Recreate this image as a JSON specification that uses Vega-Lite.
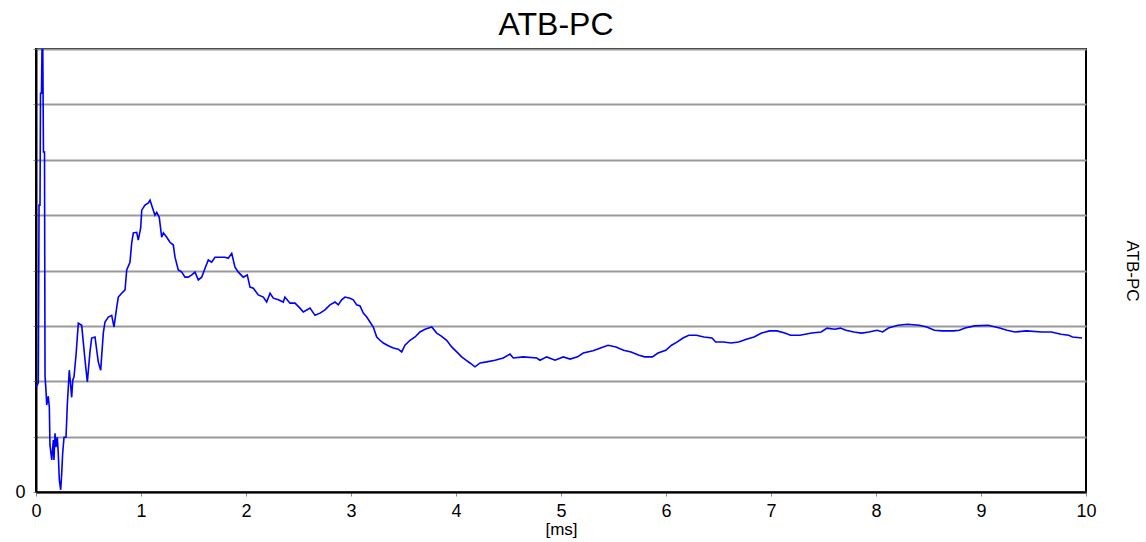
{
  "$schema": "https://vega.github.io/schema/vega-lite/v6.json",
  "width": 1050,
  "height": 443,
  "autosize": "none",
  "padding": {"left": 36, "top": 49, "right": 60, "bottom": 50},
  "background": "white",
  "title": {"text": "ATB-PC", "fontSize": 32, "font": "Liberation Sans", "fontWeight": "normal", "color": "black", "offset": 7, "anchor": "middle", "dx": -5},
  "config": {
    "view": {"stroke": "black", "strokeWidth": 2},
    "font": "Liberation Sans"
  },
  "data": {"values": [
    {"t":0.000,"v":1.95},{"t":0.0067,"v":1.91},{"t":0.022,"v":1.97},{"t":0.029,"v":5.18},{"t":0.038,"v":5.18},{"t":0.043,"v":7.20},{"t":0.052,"v":7.20},{"t":0.062,"v":8.8},{"t":0.071,"v":6.14},{"t":0.081,"v":6.14},{"t":0.086,"v":2.09},{"t":0.095,"v":1.84},{"t":0.102,"v":1.57},{"t":0.117,"v":1.73},{"t":0.127,"v":1.53},{"t":0.133,"v":0.85},{"t":0.150,"v":0.58},{"t":0.165,"v":0.94},{"t":0.171,"v":0.58},{"t":0.181,"v":1.06},{"t":0.190,"v":0.81},{"t":0.203,"v":0.99},{"t":0.212,"v":0.70},{"t":0.222,"v":0.22},{"t":0.235,"v":0.04},{"t":0.245,"v":0.34},{"t":0.254,"v":0.70},{"t":0.267,"v":0.99},{"t":0.286,"v":0.99},{"t":0.298,"v":1.57},{"t":0.317,"v":2.20},{"t":0.340,"v":1.71},{"t":0.350,"v":2.02},{"t":0.362,"v":2.08},{"t":0.381,"v":2.47},{"t":0.403,"v":3.05},{"t":0.435,"v":3.01},{"t":0.467,"v":2.38},{"t":0.489,"v":1.99},{"t":0.514,"v":2.53},{"t":0.530,"v":2.78},{"t":0.562,"v":2.80},{"t":0.593,"v":2.35},{"t":0.616,"v":2.20},{"t":0.641,"v":2.87},{"t":0.657,"v":3.07},{"t":0.689,"v":3.16},{"t":0.721,"v":3.19},{"t":0.743,"v":2.98},{"t":0.769,"v":3.34},{"t":0.784,"v":3.52},{"t":0.816,"v":3.59},{"t":0.848,"v":3.65},{"t":0.864,"v":4.01},{"t":0.895,"v":4.15},{"t":0.911,"v":4.49},{"t":0.927,"v":4.68},{"t":0.959,"v":4.69},{"t":0.974,"v":4.55},{"t":0.997,"v":4.77},{"t":1.007,"v":5.09},{"t":1.038,"v":5.18},{"t":1.070,"v":5.22},{"t":1.086,"v":5.27},{"t":1.117,"v":5.09},{"t":1.133,"v":5.00},{"t":1.150,"v":5.05},{"t":1.174,"v":4.96},{"t":1.197,"v":4.60},{"t":1.213,"v":4.68},{"t":1.245,"v":4.60},{"t":1.276,"v":4.51},{"t":1.308,"v":4.46},{"t":1.324,"v":4.24},{"t":1.355,"v":4.01},{"t":1.388,"v":3.97},{"t":1.419,"v":3.88},{"t":1.450,"v":3.88},{"t":1.483,"v":3.92},{"t":1.514,"v":3.97},{"t":1.546,"v":3.83},{"t":1.578,"v":3.88},{"t":1.610,"v":4.04},{"t":1.641,"v":4.19},{"t":1.673,"v":4.15},{"t":1.705,"v":4.24},{"t":1.752,"v":4.24},{"t":1.800,"v":4.24},{"t":1.831,"v":4.22},{"t":1.864,"v":4.31},{"t":1.895,"v":4.06},{"t":1.927,"v":3.97},{"t":1.974,"v":3.88},{"t":2.012,"v":3.92},{"t":2.038,"v":3.70},{"t":2.070,"v":3.68},{"t":2.117,"v":3.56},{"t":2.165,"v":3.52},{"t":2.197,"v":3.43},{"t":2.229,"v":3.59},{"t":2.260,"v":3.50},{"t":2.308,"v":3.47},{"t":2.355,"v":3.43},{"t":2.371,"v":3.52},{"t":2.419,"v":3.41},{"t":2.467,"v":3.41},{"t":2.514,"v":3.32},{"t":2.546,"v":3.25},{"t":2.610,"v":3.32},{"t":2.657,"v":3.19},{"t":2.705,"v":3.23},{"t":2.752,"v":3.29},{"t":2.800,"v":3.38},{"t":2.848,"v":3.43},{"t":2.879,"v":3.38},{"t":2.911,"v":3.47},{"t":2.943,"v":3.52},{"t":2.990,"v":3.50},{"t":3.022,"v":3.47},{"t":3.054,"v":3.38},{"t":3.086,"v":3.36},{"t":3.117,"v":3.23},{"t":3.150,"v":3.16},{"t":3.181,"v":3.07},{"t":3.212,"v":2.98},{"t":3.245,"v":2.80},{"t":3.276,"v":2.74},{"t":3.308,"v":2.69},{"t":3.355,"v":2.64},{"t":3.403,"v":2.60},{"t":3.450,"v":2.58},{"t":3.483,"v":2.53},{"t":3.514,"v":2.65},{"t":3.562,"v":2.74},{"t":3.610,"v":2.80},{"t":3.657,"v":2.89},{"t":3.705,"v":2.94},{"t":3.769,"v":2.98},{"t":3.816,"v":2.87},{"t":3.857,"v":2.82},{"t":3.911,"v":2.74},{"t":3.959,"v":2.62},{"t":4.007,"v":2.53},{"t":4.054,"v":2.44},{"t":4.095,"v":2.38},{"t":4.133,"v":2.33},{"t":4.181,"v":2.26},{"t":4.229,"v":2.33},{"t":4.292,"v":2.35},{"t":4.371,"v":2.38},{"t":4.450,"v":2.42},{"t":4.514,"v":2.49},{"t":4.546,"v":2.42},{"t":4.641,"v":2.44},{"t":4.769,"v":2.42},{"t":4.800,"v":2.38},{"t":4.864,"v":2.44},{"t":4.943,"v":2.38},{"t":5.022,"v":2.44},{"t":5.086,"v":2.40},{"t":5.158,"v":2.44},{"t":5.212,"v":2.51},{"t":5.305,"v":2.55},{"t":5.377,"v":2.60},{"t":5.448,"v":2.65},{"t":5.524,"v":2.62},{"t":5.596,"v":2.56},{"t":5.667,"v":2.53},{"t":5.743,"v":2.47},{"t":5.797,"v":2.44},{"t":5.870,"v":2.44},{"t":5.924,"v":2.51},{"t":5.998,"v":2.56},{"t":6.053,"v":2.65},{"t":6.108,"v":2.71},{"t":6.162,"v":2.78},{"t":6.217,"v":2.83},{"t":6.290,"v":2.83},{"t":6.362,"v":2.80},{"t":6.438,"v":2.78},{"t":6.473,"v":2.71},{"t":6.547,"v":2.71},{"t":6.619,"v":2.69},{"t":6.692,"v":2.71},{"t":6.766,"v":2.76},{"t":6.838,"v":2.80},{"t":6.911,"v":2.87},{"t":6.985,"v":2.91},{"t":7.057,"v":2.91},{"t":7.131,"v":2.87},{"t":7.186,"v":2.83},{"t":7.276,"v":2.83},{"t":7.387,"v":2.87},{"t":7.478,"v":2.89},{"t":7.533,"v":2.96},{"t":7.607,"v":2.94},{"t":7.661,"v":2.96},{"t":7.714,"v":2.92},{"t":7.789,"v":2.89},{"t":7.862,"v":2.87},{"t":7.933,"v":2.89},{"t":8.010,"v":2.92},{"t":8.063,"v":2.89},{"t":8.118,"v":2.96},{"t":8.210,"v":3.01},{"t":8.301,"v":3.03},{"t":8.410,"v":3.01},{"t":8.483,"v":2.98},{"t":8.556,"v":2.92},{"t":8.629,"v":2.91},{"t":8.739,"v":2.91},{"t":8.794,"v":2.92},{"t":8.848,"v":2.96},{"t":8.940,"v":3.00},{"t":9.067,"v":3.01},{"t":9.178,"v":2.96},{"t":9.248,"v":2.92},{"t":9.324,"v":2.89},{"t":9.433,"v":2.91},{"t":9.581,"v":2.89},{"t":9.671,"v":2.89},{"t":9.762,"v":2.85},{"t":9.835,"v":2.83},{"t":9.872,"v":2.80},{"t":9.962,"v":2.78}
  ]},
  "layer": [
    {
      "mark": {"type": "line", "color": "#0000ff", "strokeWidth": 1.6, "clip": true},
      "encoding": {
        "x": {"field": "t", "type": "quantitative", "scale": {"domain": [0, 10], "nice": false, "zero": false},
          "axis": {"title": "[ms]", "titleFontSize": 17, "titleFontWeight": "normal", "titleColor": "black", "titlePadding": 1,
            "values": [0,1,2,3,4,5,6,7,8,9,10], "format": "d", "labelFontSize": 18, "labelColor": "black", "labelPadding": 6,
            "tickSize": 4, "tickColor": "#888888", "tickWidth": 1, "domainColor": "black", "domainWidth": 2, "grid": false, "labelFlush": false}},
        "y": {"field": "v", "type": "quantitative", "scale": {"domain": [0, 8], "nice": false, "zero": true},
          "axis": {"title": null, "values": [0,1,2,3,4,5,6,7,8], "labelExpr": "datum.value === 0 ? '0' : ''",
            "labelFontSize": 18, "labelColor": "black", "labelPadding": 8, "tickSize": 3, "tickColor": "#888888",
            "domainColor": "black", "domainWidth": 2, "grid": true, "gridColor": "#999999", "gridWidth": 2}}
      }
    },
    {
      "mark": {"type": "line", "strokeOpacity": 0, "clip": true},
      "encoding": {
        "x": {"field": "t", "type": "quantitative", "scale": {"domain": [0, 10], "nice": false}},
        "y": {"field": "v", "type": "quantitative", "scale": {"domain": [0, 8], "nice": false},
          "axis": {"orient": "right", "title": "ATB-PC", "titleAngle": 90, "titleFontSize": 17, "titleFontWeight": "normal", "titleColor": "black",
            "titlePadding": 36, "labels": false, "ticks": false, "domain": false, "grid": false}}
      }
    }
  ],
  "resolve": {"scale": {"y": "independent"}}
}
